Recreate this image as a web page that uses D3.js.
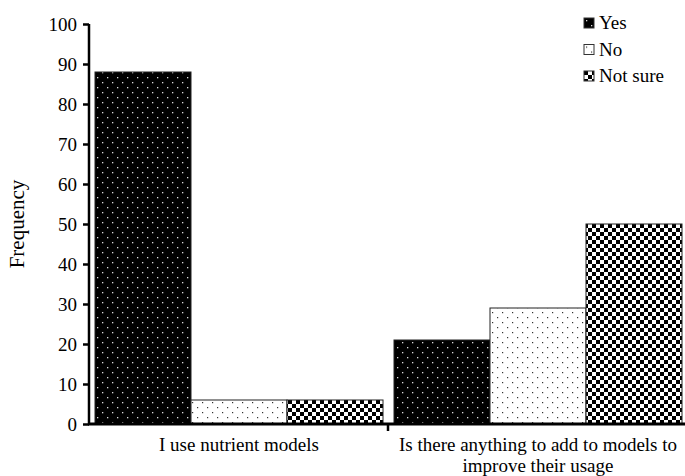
<!DOCTYPE html>
<html>
<head>
<meta charset="utf-8">
<script src="https://cdn.jsdelivr.net/npm/d3@7"></script>
<style>
  html, body { margin: 0; padding: 0; background: #fff; }
  svg { display: block; }
  text { font-family: 'Liberation Serif', 'Times New Roman', serif; fill: #000; }
</style>
</head>
<body>
<div id="chart"></div>
<script>
// ── Data ───────────────────────────────────────────────────────────────────
const categories = ['I use nutrient models', 'Is there anything to add to models to improve their usage'];
const categoryLines = [['I use nutrient models'], ['Is there anything to add to models to', 'improve their usage']];
const seriesNames = ['Yes', 'No', 'Not sure'];
const yesValues = [88, 21];
const noValues = [6, 29];
const notSureValues = [6, 50];
const yTicks = [0, 10, 20, 30, 40, 50, 60, 70, 80, 90, 100];

const seriesValues = [yesValues, noValues, notSureValues];

const W = 685, H = 476;
const margin = { left: 89 };

const svg = d3.select('#chart').append('svg')
  .attr('width', W).attr('height', H);

const defs = svg.append('defs');

// Yes: black with white dots
const pYes = defs.append('pattern').attr('id', 'pat-yes')
  .attr('patternUnits', 'userSpaceOnUse').attr('width', 10).attr('height', 10);
pYes.append('rect').attr('width', 10).attr('height', 10).attr('fill', '#000');
pYes.append('rect').attr('x', 2).attr('y', 2).attr('width', 1.3).attr('height', 1.3).attr('fill', '#ddd');
pYes.append('rect').attr('x', 7).attr('y', 7).attr('width', 1.3).attr('height', 1.3).attr('fill', '#ddd');

// No: white with black dots
const pNo = defs.append('pattern').attr('id', 'pat-no')
  .attr('patternUnits', 'userSpaceOnUse').attr('width', 10).attr('height', 10);
pNo.append('rect').attr('width', 10).attr('height', 10).attr('fill', '#fff');
pNo.append('rect').attr('x', 2).attr('y', 2).attr('width', 1.2).attr('height', 1.2).attr('fill', '#333');
pNo.append('rect').attr('x', 7).attr('y', 7).attr('width', 1.2).attr('height', 1.2).attr('fill', '#333');

// Not sure: checkerboard
const pNs = defs.append('pattern').attr('id', 'pat-ns')
  .attr('patternUnits', 'userSpaceOnUse').attr('width', 8).attr('height', 8);
pNs.append('rect').attr('width', 8).attr('height', 8).attr('fill', '#fff');
pNs.append('rect').attr('x', 0).attr('y', 0).attr('width', 4).attr('height', 4).attr('fill', '#000');
pNs.append('rect').attr('x', 4).attr('y', 4).attr('width', 4).attr('height', 4).attr('fill', '#000');

const fills = ['url(#pat-yes)', 'url(#pat-no)', 'url(#pat-ns)'];

// ── Scales ─────────────────────────────────────────────────────────────────
const x0 = d3.scaleBand().domain(categories).range([margin.left, 687]).paddingInner(0);
const x1 = d3.scaleBand().domain(seriesNames).range([6, x0.bandwidth() - 5]);
const y = d3.scaleLinear().domain([0, 100]).range([424, 24]);

// ── Bars ───────────────────────────────────────────────────────────────────
categories.forEach((c, ci) => {
  seriesNames.forEach((s, si) => {
    const v = seriesValues[si][ci];
    svg.append('rect')
      .attr('x', x0(c) + x1(s))
      .attr('y', y(v))
      .attr('width', x1.bandwidth())
      .attr('height', y(0) - y(v))
      .attr('fill', fills[si])
      .attr('stroke', '#222')
      .attr('stroke-width', 1);
  });
});

// ── Axes ───────────────────────────────────────────────────────────────────
const yAxis = svg.append('g')
  .attr('transform', `translate(${margin.left},0)`)
  .call(d3.axisLeft(y).tickValues(yTicks).tickSize(6).tickPadding(6));
yAxis.select('.domain').attr('stroke', '#000').attr('stroke-width', 2.5)
  .attr('d', `M0,${y(100)}V${y(0)}`);
yAxis.selectAll('.tick line').attr('stroke', '#000').attr('stroke-width', 2.5);
yAxis.selectAll('.tick text')
  .attr('font-size', '19px')
  .attr('font-family', "'Liberation Serif', serif")
  .attr('fill', '#000');

svg.append('line')
  .attr('x1', margin.left - 1).attr('x2', W)
  .attr('y1', y(0)).attr('y2', y(0))
  .attr('stroke', '#000').attr('stroke-width', 3);

// category separator ticks
categories.forEach(c => {
  svg.append('line')
    .attr('x1', x0(c) + x0.bandwidth()).attr('x2', x0(c) + x0.bandwidth())
    .attr('y1', y(0)).attr('y2', y(0) + 7)
    .attr('stroke', '#000').attr('stroke-width', 2.5);
});

// category labels
categories.forEach((c, ci) => {
  const cxp = x0(c) + x1.range()[0] + (x1.range()[1] - x1.range()[0]) / 2;
  const t = svg.append('text')
    .attr('text-anchor', 'middle')
    .attr('font-size', '19px');
  categoryLines[ci].forEach((line, li) => {
    t.append('tspan').attr('x', cxp).attr('y', 451 + li * 21).text(line);
  });
});

// y label
svg.append('text')
  .attr('transform', `translate(24,${y(50)}) rotate(-90)`)
  .attr('text-anchor', 'middle')
  .attr('font-size', '21px')
  .text('Frequency');

// ── Legend ─────────────────────────────────────────────────────────────────
const legend = svg.append('g').attr('transform', 'translate(584,18)');
seriesNames.forEach((s, i) => {
  const g = legend.append('g').attr('transform', `translate(0,${i * 26.5})`);
  g.append('rect')
    .attr('width', 10).attr('height', 10)
    .attr('fill', fills[i])
    .attr('stroke', '#333').attr('stroke-width', 1);
  g.append('text')
    .attr('x', 15).attr('y', 11)
    .attr('font-size', '19px')
    .text(s);
});
</script>
</body>
</html>
